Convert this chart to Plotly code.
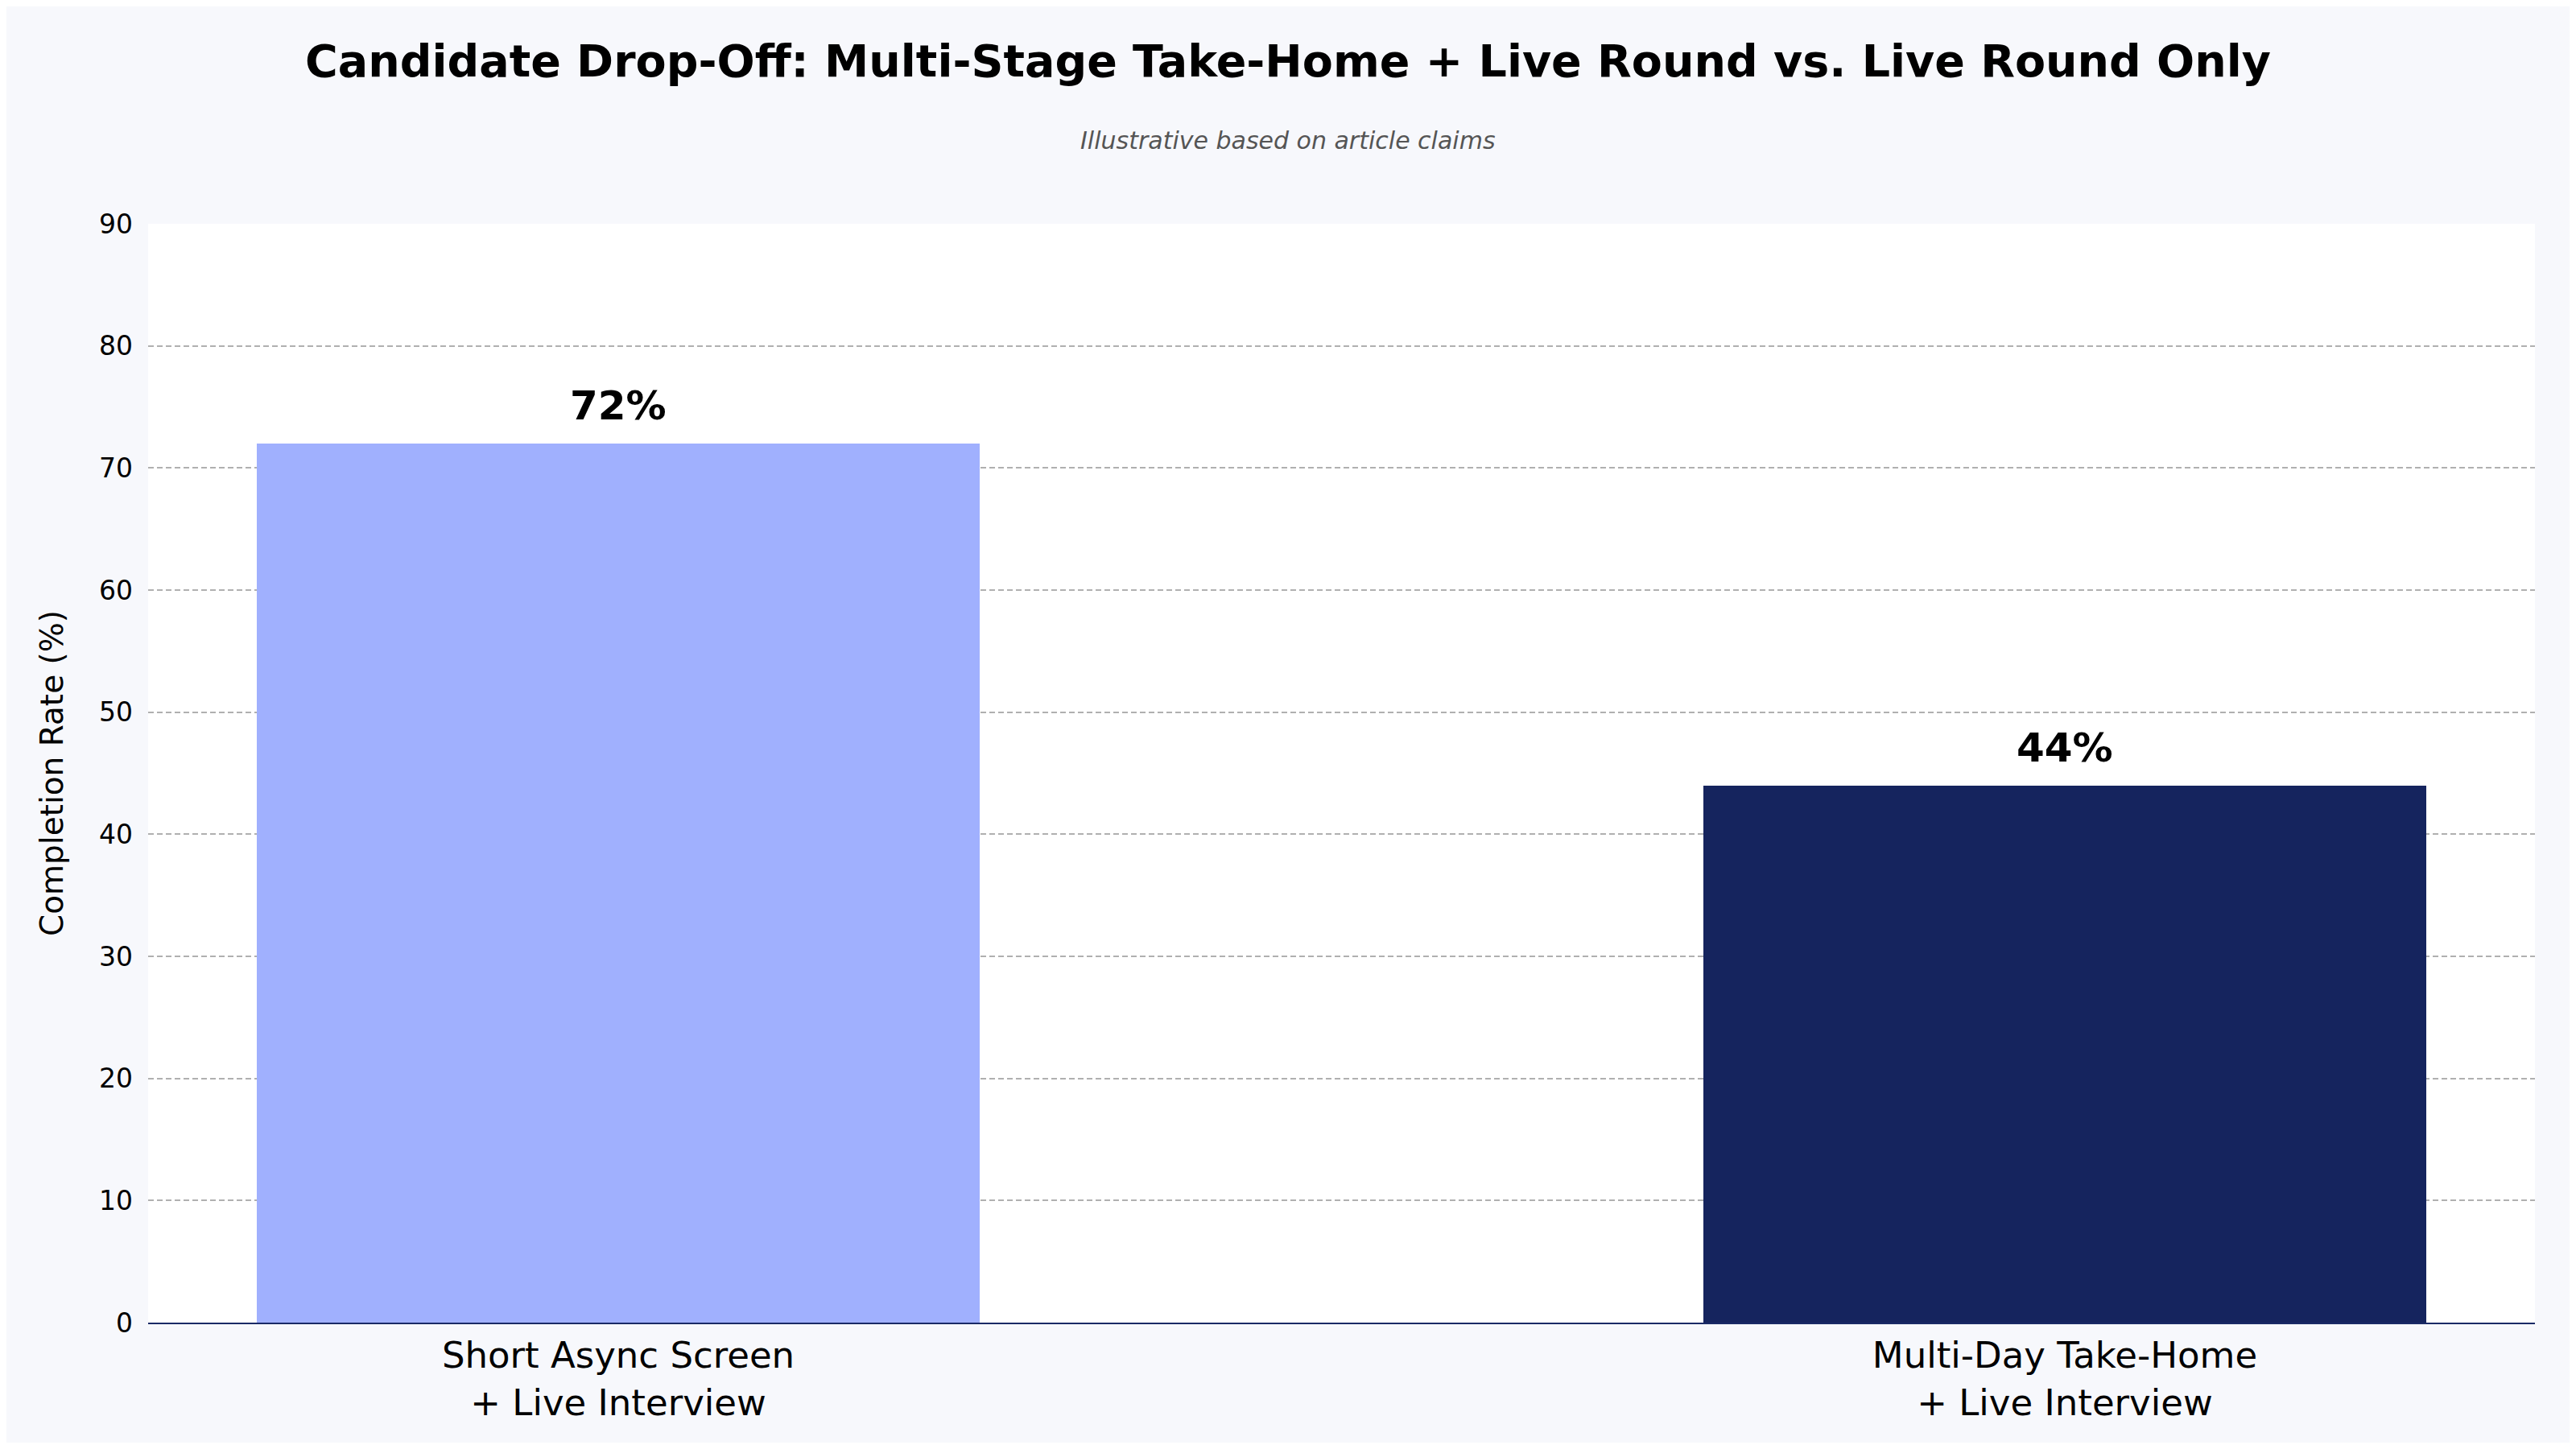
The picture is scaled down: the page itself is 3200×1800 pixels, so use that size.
import plotly.graph_objects as go

categories = ["Short Async Screen<br>+ Live Interview", "Multi-Day Take-Home<br>+ Live Interview"]
completion_rates = [72, 44]
bar_labels = ["72%", "44%"]
bar_colors = ["#a0b0fe", "#15245e"]
y_ticks = [0, 10, 20, 30, 40, 50, 60, 70, 80, 90]

FONT = "DejaVu Sans"

# page has an 8px body margin, so the figure is shrunk by that amount
OFF = 8
W, H = 3200 - 2 * OFF, 1800 - 2 * OFF
PL, PR, PT, PB = 184, 3149, 278, 1643  # plot area in page coordinates

fig = go.Figure()
fig.add_trace(go.Bar(
    x=[0, 1],
    y=completion_rates,
    width=0.5,
    marker=dict(color=bar_colors, line=dict(width=0)),
    textposition="none",
    hoverinfo="skip",
    showlegend=False,
))

for i, (v, lab) in enumerate(zip(completion_rates, bar_labels)):
    fig.add_annotation(
        x=i, y=v, text="<b>%s</b>" % lab, showarrow=False,
        xanchor="center", yanchor="bottom", yshift=16,
        font=dict(family=FONT, size=50, color="#000000"),
    )

fig.update_layout(
    width=W, height=H,
    margin=dict(l=PL - OFF, r=(3200 - OFF) - PR, t=PT - OFF, b=(1800 - OFF) - PB),
    paper_bgcolor="#f7f8fc",
    plot_bgcolor="#ffffff",
    font=dict(family=FONT, color="#000000"),
    title=dict(
        text="<b>Candidate Drop-Off: Multi-Stage Take-Home + Live Round vs. Live Round Only</b>",
        x=(1600 - OFF) / W, xref="container", xanchor="center",
        y=1 - (76 - OFF) / H, yref="container", yanchor="middle",
        font=dict(family=FONT, size=55.5, color="#000000"),
    ),
    bargap=0,
)

fig.add_annotation(
    text="<i>Illustrative based on article claims</i>",
    xref="paper", yref="paper",
    x=(1600 - PL) / (PR - PL), y=1 + (PT - 174) / (PB - PT),
    xanchor="center", yanchor="middle", showarrow=False,
    font=dict(family=FONT, size=30, color="#555555"),
)

fig.update_xaxes(
    range=[-0.325, 1.325],
    tickmode="array", tickvals=[0, 1], ticktext=categories,
    tickfont=dict(family=FONT, size=45, color="#000000"),
    showgrid=False, zeroline=False,
    showline=True, linecolor="#1a2a66", linewidth=2,
    ticks="", ticklen=0,
)
fig.update_yaxes(
    range=[0, 90],
    tickmode="array", tickvals=y_ticks,
    tickfont=dict(family=FONT, size=33, color="#000000"),
    ticklabelstandoff=18,
    showgrid=True, gridcolor="#b0b0b0", gridwidth=2, griddash="7px,4px",
    zeroline=False, showline=False, ticks="", ticklen=0,
    title=dict(text="Completion Rate (%)", font=dict(family=FONT, size=39, color="#000000"), standoff=32),
)

fig.write_html("out.html")
